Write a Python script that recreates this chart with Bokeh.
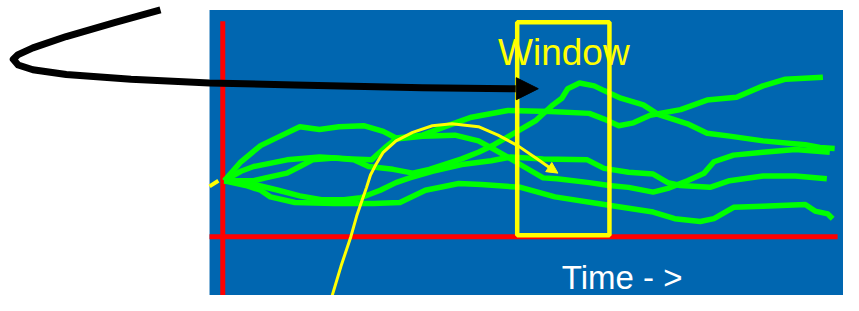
from bokeh.plotting import figure
from bokeh.models import Range1d, Label, Arrow, NormalHead
from bokeh.embed import file_html
from bokeh.resources import INLINE

# ---------------- data (diagram coordinates) ----------------
panel_x = [213, 859]
panel_y = [10, 311]

time_axis_x = [213, 853]
time_axis_y = [249, 249]
value_axis_x = [226.5, 226.5]
value_axis_y = [22, 311]

window_x = [526.5, 620.5]
window_y = [23, 247.5]

series_u_x = [228, 245, 265, 285, 305, 325, 345, 370, 390, 403, 430, 453, 480, 517, 560, 600, 615, 630, 645, 662, 693, 720, 750, 777, 800, 838]
series_u_y = [190, 170, 153, 143, 133, 136, 133, 132, 138, 145, 142, 133, 123, 116, 117, 119, 125, 132, 129, 121, 115, 105, 102, 90, 83, 81]

series_x_x = [228, 245, 258, 292, 325, 358, 378, 392, 403, 430, 463, 487, 503, 520, 533, 553, 567, 600, 620, 640, 665, 680, 700, 717, 727, 747, 777, 810, 845]
series_x_y = [190, 180, 175, 168, 165, 167, 168, 155, 146, 143, 142, 148, 157, 167, 175, 187, 188, 192, 195, 197, 202, 198, 190, 182, 170, 163, 160, 157, 160]

series_p_x = [228, 258, 270, 292, 305, 318, 340, 360, 375, 400, 420, 437, 470, 487, 503, 520, 545, 563, 572, 578, 590, 605, 615, 632, 655, 670, 700, 720, 743, 777, 820, 835, 850]
series_p_y = [190, 190, 187, 182, 175, 168, 166, 168, 175, 178, 182, 178, 167, 160, 152, 142, 127, 110, 103, 93, 87, 90, 95, 103, 110, 120, 130, 140, 143, 148, 152, 155, 156]

series_y_x = [228, 255, 283, 305, 327, 350, 367, 387, 403, 417, 440, 470, 500, 520, 553, 598, 615, 640, 665, 680, 693, 723, 743, 777, 810, 842]
series_y_y = [190, 193, 200, 206, 210, 210, 208, 200, 192, 187, 180, 173, 169, 165, 167, 168, 177, 181, 183, 192, 195, 197, 190, 185, 185, 188]

series_s_x = [228, 250, 265, 275, 300, 340, 380, 407, 433, 467, 490, 530, 565, 615, 640, 665, 687, 713, 727, 747, 777, 820, 830, 843, 848]
series_s_y = [190, 195, 200, 207, 213, 214, 214, 213, 200, 193, 194, 197, 207, 215, 219, 223, 230, 233, 230, 218, 217, 215, 222, 225, 230]

pointer_x = [163, 117, 67, 33, 18, 13, 18, 33, 67, 133, 213, 300, 430, 525, 548]
pointer_y = [10, 23, 38, 50, 57, 62, 68, 73, 78, 83, 87, 89, 92, 93, 93]

arc_x = [338, 347, 357, 363, 368, 373, 377, 383, 390, 403, 420, 440, 460, 487, 507, 527, 547, 560, 568]
arc_y = [311, 280, 249, 227, 212, 197, 184, 172, 160, 148, 139, 132, 130, 133, 142, 153, 167, 176.5, 182]

stub_x = [213, 222]
stub_y = [196, 190]

window_label = "Window"
window_label_pos = (507, 55)
time_label = "Time - >"
time_label_pos = (572, 292)

BLUE = "#0066B0"
GREEN = "#00FF00"
YELLOW = "#FFFF00"
RED = "#FF0000"

p = figure(width=843, height=295, x_range=Range1d(0, 859), y_range=Range1d(311, 0),
           output_backend="svg", toolbar_location=None,
           x_axis_location=None, y_axis_location=None,
           min_border=0, outline_line_color=None,
           background_fill_color="white", border_fill_color="white")
p.grid.visible = False

# blue panel
p.quad(left=panel_x[0], right=panel_x[1], top=panel_y[0], bottom=panel_y[1],
       fill_color=BLUE, line_color=None)

# red axes
p.line(time_axis_x, time_axis_y, line_color=RED, line_width=5)
p.line(value_axis_x, value_axis_y, line_color=RED, line_width=5)

# green series
for xs, ys in [(series_u_x, series_u_y), (series_x_x, series_x_y), (series_p_x, series_p_y),
               (series_y_x, series_y_y), (series_s_x, series_s_y)]:
    p.line(xs, ys, line_color=GREEN, line_width=5.5, line_join="round", line_cap="butt")

# yellow window
p.quad(left=window_x[0], right=window_x[1], top=window_y[0], bottom=window_y[1],
       fill_color=None, line_color=YELLOW, line_width=4.5)

# yellow arc with arrow
p.line(arc_x[:-1], arc_y[:-1], line_color=YELLOW, line_width=3, line_join="round")
p.add_layout(Arrow(end=NormalHead(size=11, fill_color=YELLOW, line_color=YELLOW, line_width=1),
                   x_start=arc_x[-2], y_start=arc_y[-2], x_end=arc_x[-1], y_end=arc_y[-1],
                   line_color=None))
p.line(stub_x, stub_y, line_color=YELLOW, line_width=4)

# black pointer arrow
p.line(pointer_x[:-1], pointer_y[:-1], line_color="black", line_width=7, line_join="round")
p.add_layout(Arrow(end=NormalHead(size=22, fill_color="black", line_color="black", line_width=1),
                   x_start=pointer_x[-2], y_start=pointer_y[-2], x_end=pointer_x[-1], y_end=pointer_y[-1],
                   line_color=None))

# texts
p.add_layout(Label(x=window_label_pos[0], y=window_label_pos[1], text=window_label,
                   text_font="Liberation Sans", text_font_size="37px",
                   text_color=YELLOW, text_baseline="alphabetic", text_align="left"))
p.add_layout(Label(x=time_label_pos[0], y=time_label_pos[1], text=time_label,
                   text_font="Liberation Sans", text_font_size="33px",
                   text_color="white", text_baseline="alphabetic", text_align="left"))

open("out.html", "w").write(file_html(p, INLINE))
